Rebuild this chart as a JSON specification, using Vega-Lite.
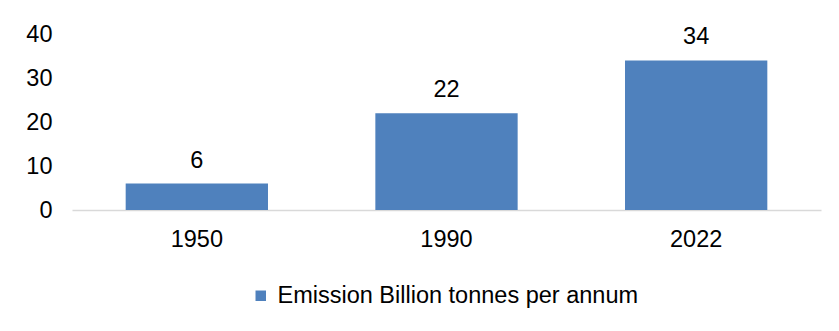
{
  "$schema": "https://vega.github.io/schema/vega-lite/v6.json",
  "width": 749,
  "height": 176,
  "padding": {"left": 25, "top": 22, "right": 19, "bottom": 10},
  "background": "white",
  "config": {
    "font": "Liberation Sans",
    "view": {"stroke": null}
  },
  "data": {
    "values": [
      {"year": "1950", "value": 6, "series": "Emission Billion tonnes per annum"},
      {"year": "1990", "value": 22, "series": "Emission Billion tonnes per annum"},
      {"year": "2022", "value": 34, "series": "Emission Billion tonnes per annum"}
    ]
  },
  "encoding": {
    "x": {
      "field": "year",
      "type": "nominal",
      "scale": {"paddingInner": 0.43, "paddingOuter": 0.215},
      "axis": {
        "title": null,
        "labelAngle": 0,
        "labelFontSize": 23.5,
        "labelColor": "#000000",
        "labelPadding": 17,
        "ticks": false,
        "domainColor": "#D9D9D9",
        "domainWidth": 1.5
      }
    },
    "y": {
      "field": "value",
      "type": "quantitative",
      "scale": {"domain": [0, 40]},
      "axis": {
        "title": null,
        "values": [0, 10, 20, 30, 40],
        "labelFontSize": 23.5,
        "labelColor": "#000000",
        "labelPadding": 20,
        "ticks": false,
        "domain": false,
        "grid": false
      }
    }
  },
  "layer": [
    {
      "mark": {"type": "bar", "color": "#4F81BD"},
      "encoding": {
        "color": {
          "field": "series",
          "type": "nominal",
          "scale": {"range": ["#4F81BD"]},
          "legend": {
            "title": null,
            "orient": "none",
            "legendX": 177,
            "legendY": 250,
            "direction": "horizontal",
            "labelFontSize": 23.5,
            "labelColor": "#000000",
            "labelLimit": 0,
            "symbolType": "square",
            "symbolSize": 110,
            "symbolStrokeWidth": 0,
            "symbolOffset": 0,
            "labelOffset": 5,
            "padding": 0
          }
        }
      }
    },
    {
      "mark": {"type": "text", "fontSize": 23.5, "color": "#000000", "baseline": "alphabetic", "dy": -16},
      "encoding": {"text": {"field": "value", "type": "quantitative"}}
    }
  ]
}
